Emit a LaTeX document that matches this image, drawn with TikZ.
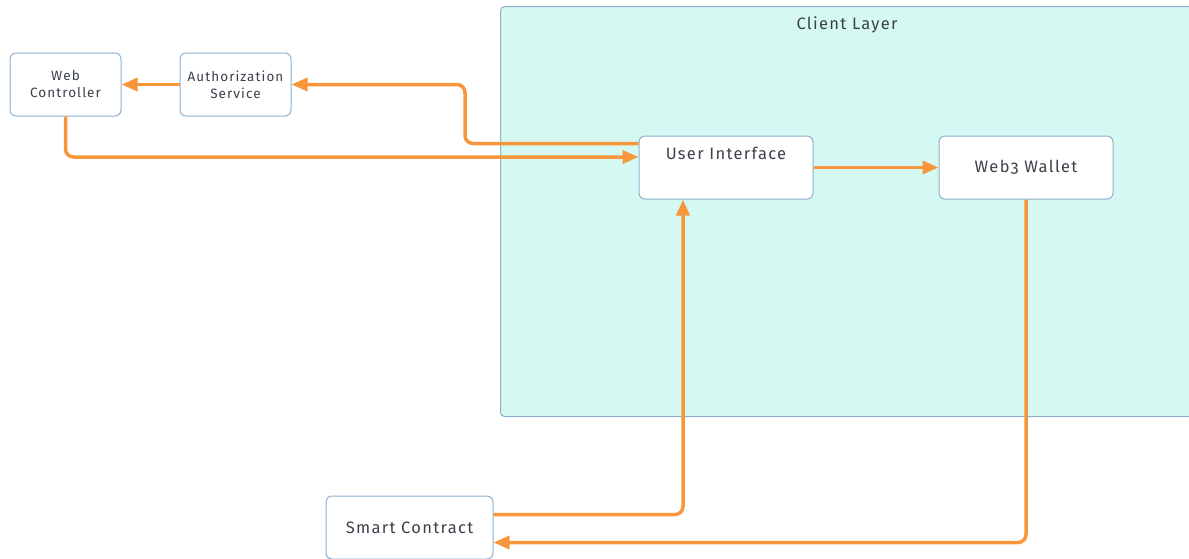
\documentclass[tikz,border=0pt]{standalone}
\usepackage{fontspec}
\setmainfont[Numbers=OldStyle,LetterSpace=8]{Fira Sans}
\usetikzlibrary{arrows.meta,calc}
\definecolor{edge}{HTML}{8DB0CE}
\definecolor{layerfill}{HTML}{D6F8F2}
\definecolor{flowc}{HTML}{F7963A}
\definecolor{ink}{HTML}{3B404A}
\tikzset{
  box/.style={draw=edge, line width=1pt, fill=white, rounded corners=6pt,
    minimum width=#1, minimum height=63pt, inner sep=0pt, align=center,
    text=ink},
  box/.default=111pt,
  small/.style={font=\fontsize{13.5pt}{17pt}\selectfont},
  big/.style={font=\fontsize{16.5pt}{20pt}\selectfont},
  flow/.style={draw=flowc, line width=3.5pt, rounded corners=8pt,
    -{Triangle[length=16pt,width=13pt]}},
}
\begin{document}
\begin{tikzpicture}[x=1pt,y=-1pt]
\useasboundingbox (0,0) rectangle (1189,558);
% client layer container
\node[draw=edge, line width=1pt, fill=layerfill, rounded corners=4pt,
      minimum width=720pt, minimum height=410pt, anchor=north west, inner sep=0pt]
  (layer) at (500,6) {};
\node[big, text=ink, anchor=base] (layertitle) at (847,29) {Client Layer};

% components
\node[box, small] (wc) at (65.5,84.5) {Web\\Controller};
\node[box, small] (auth) at (235.5,84.5) {Authorization\\Service};
\node[box=174pt] (ui) at (726,167.5) {};
\node[big, text=ink, anchor=base] (uitext) at (726,159) {User Interface};
\node[box=174pt, big] (wallet) at (1026,167.5) {Web3 Wallet};
\node[box=167pt, big] (sc) at (409.5,527.5) {Smart Contract};

% connectors
\coordinate (bend) at (465,84.5);
\draw[flow] ($(ui.north west)+(0,8)$) -| (bend) -- (auth.east);
\draw[flow] (auth.west) -- (wc.east);
\draw[flow] (wc.south) |- ($(ui.west)+(0,-10.5)$);
\draw[flow] (ui.east) -- (wallet.west);
\draw[flow] ($(sc.north east)+(0,19)$) -| ($(ui.south)+(-43,0)$);
\draw[flow] (wallet.south) |- ($(sc.north east)+(0,47)$);
\end{tikzpicture}
\end{document}
